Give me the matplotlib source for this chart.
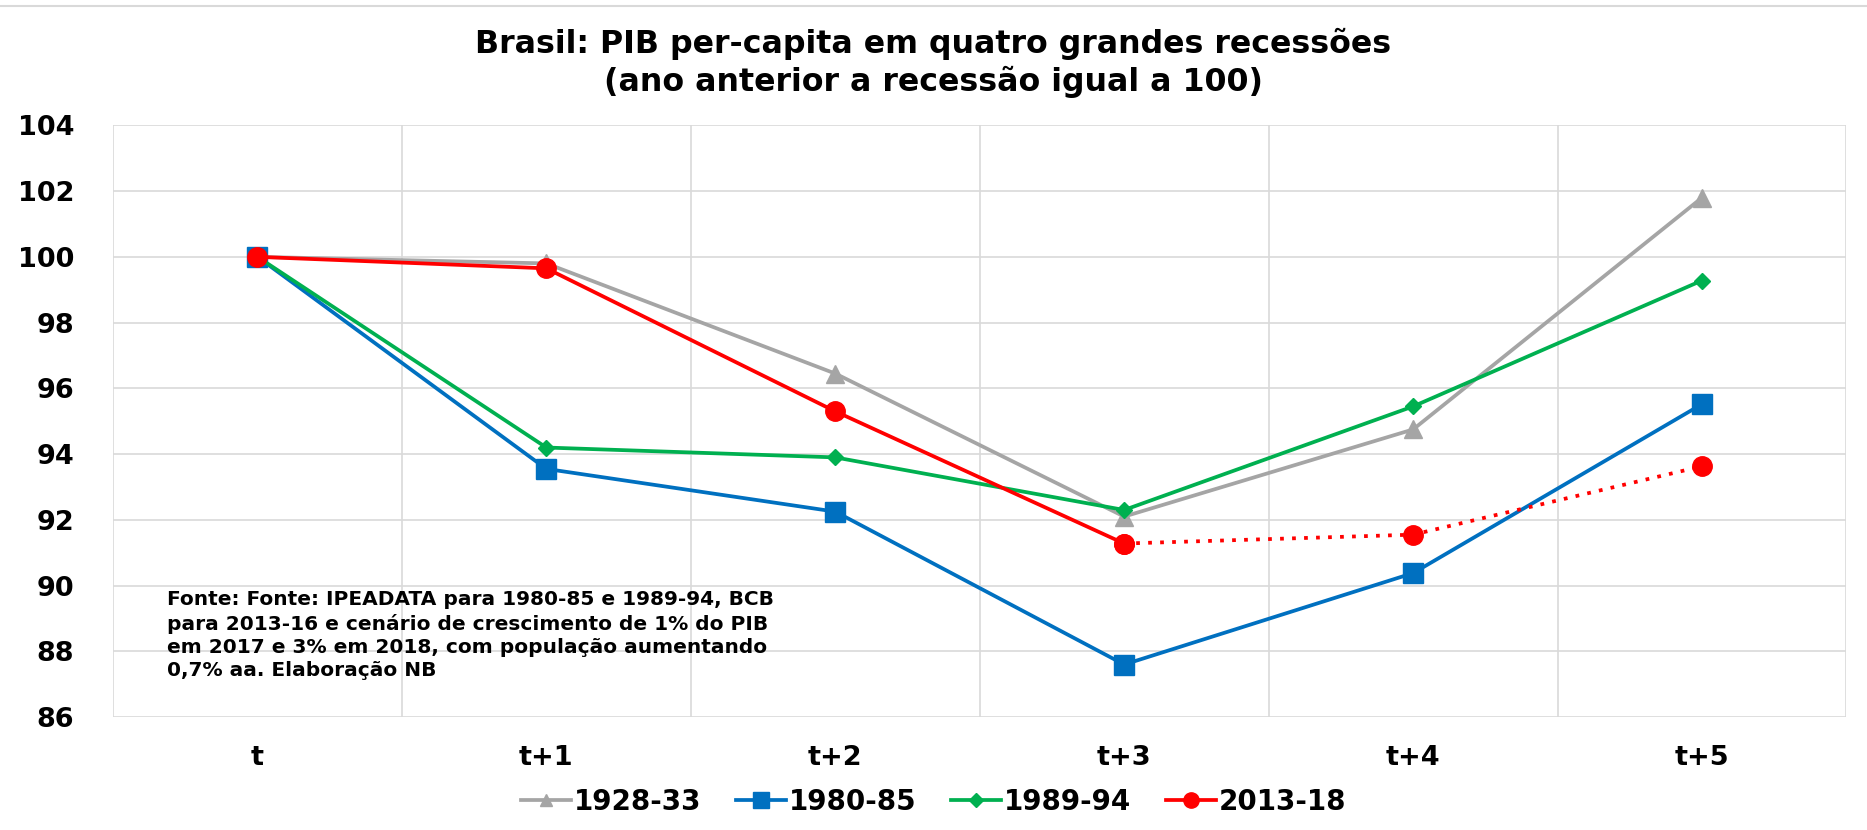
import numpy as np
import matplotlib.pyplot as plt
from matplotlib.lines import Line2D

plt.rcParams['font.family'] = ['DejaVu Sans']

# Categories and series (index: ano anterior a recessao = 100)
periods = ["t", "t+1", "t+2", "t+3", "t+4", "t+5"]
s_1928 = [100.0, 99.8, 96.45, 92.1, 94.75, 101.8]
s_1980 = [100.0, 93.55, 92.25, 87.6, 90.38, 95.52]
s_1989 = [100.0, 94.2, 93.9, 92.3, 95.45, 99.28]
s_2013 = [100.0, 99.65, 95.3, 91.28, 91.55, 93.63]
n_obs_2013 = 4  # observed points, rest is scenario (dotted)

c_gray = "#A5A5A5"
c_blue = "#0070C0"
c_green = "#00B050"
c_red = "#FF0000"

fig = plt.figure(figsize=(18.67, 8.30), dpi=100)
ax = fig.add_axes([0.0605, 0.136, 0.9285, 0.713])

x = np.arange(len(periods))
lw = 2.7
ax.plot(x, s_1928, color=c_gray, lw=lw, marker="^", ms=13, zorder=3)
ax.plot(x, s_1980, color=c_blue, lw=lw, marker="s", ms=15, zorder=4)
ax.plot(x, s_1989, color=c_green, lw=lw, marker="D", ms=8, zorder=5)
ax.plot(x[:n_obs_2013], s_2013[:n_obs_2013], color=c_red, lw=lw, marker="o", ms=14, zorder=6)
ax.plot(x[n_obs_2013 - 1:], s_2013[n_obs_2013 - 1:], color=c_red, lw=lw, ls=(0, (1, 2.2)),
        marker="o", ms=14, zorder=6)

ax.set_xlim(-0.5, 5.5)
ax.set_ylim(86, 104)
ax.set_yticks(np.arange(86, 105, 2))
ax.set_xticks(x)
ax.set_xticklabels(periods)
ax.set_xticks(np.arange(-0.5, 5.6, 1), minor=True)

ax.grid(axis="y", color="#D9D9D9", lw=1.2)
ax.grid(axis="x", which="minor", color="#D9D9D9", lw=1.2)
ax.set_axisbelow(True)
for sp in ["top", "left", "bottom", "right"]:
    ax.spines[sp].set_visible(False)
ax.tick_params(axis="both", which="both", length=0)
ax.tick_params(axis="y", pad=28, labelsize=19.5)
ax.tick_params(axis="x", pad=20, labelsize=19.5)
for lab in ax.get_xticklabels() + ax.get_yticklabels():
    lab.set_fontweight("bold")

fig.text(0.5, 0.924, "Brasil: PIB per-capita em quatro grandes recessões\n(ano anterior a recessão igual a 100)",
         ha="center", va="center", fontsize=22.8, fontweight="bold", linespacing=1.25)

ax.text(0.031, 0.214,
        "Fonte: Fonte: IPEADATA para 1980-85 e 1989-94, BCB\n"
        "para 2013-16 e cenário de crescimento de 1% do PIB\n"
        "em 2017 e 3% em 2018, com população aumentando\n"
        "0,7% aa. Elaboração NB",
        transform=ax.transAxes, ha="left", va="top", fontsize=14.5, fontweight="bold",
        linespacing=1.28)

handles = [
    Line2D([], [], color=c_gray, lw=lw, marker="^", ms=9),
    Line2D([], [], color=c_blue, lw=lw, marker="s", ms=11),
    Line2D([], [], color=c_green, lw=lw, marker="D", ms=7),
    Line2D([], [], color=c_red, lw=lw, marker="o", ms=11),
]
fig.legend(handles, ["1928-33", "1980-85", "1989-94", "2013-18"], loc="center",
           bbox_to_anchor=(0.5, 0.034), ncol=4, frameon=False, handlelength=1.8,
           handletextpad=0.1, columnspacing=1.25, prop={"size": 20, "weight": "bold"})

fig.add_artist(Line2D([0, 1], [0.993, 0.993], color="#D9D9D9", lw=1.5, transform=fig.transFigure))

fig.savefig("out.png", dpi=100)
